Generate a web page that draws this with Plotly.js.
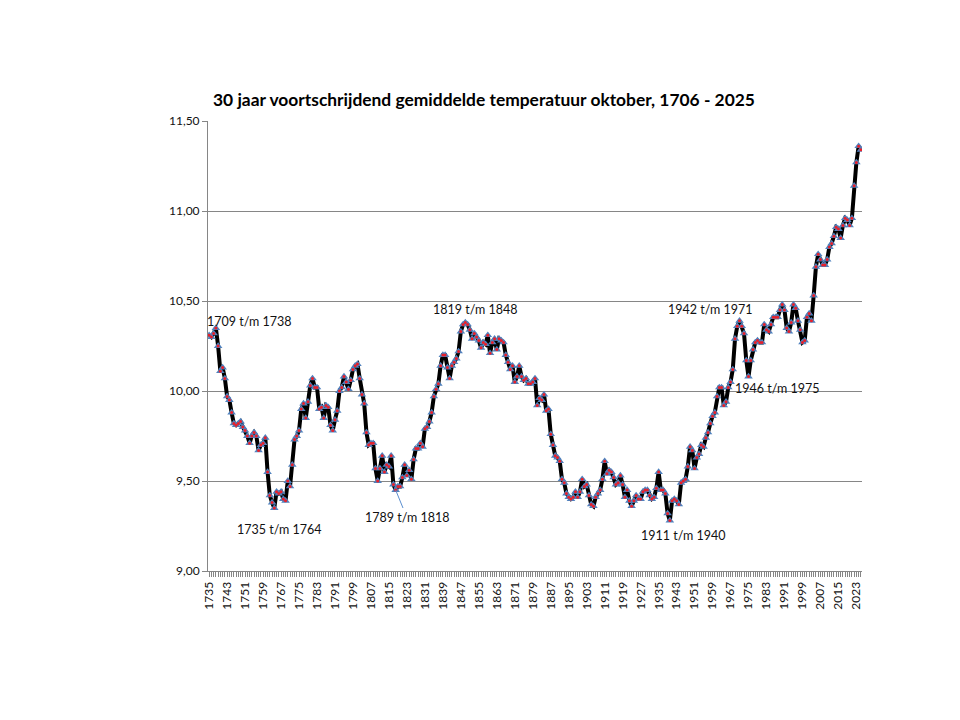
<!DOCTYPE html>
<html>
<head>
<meta charset="utf-8">
<script src="https://cdn.plot.ly/plotly-3.0.1.min.js"></script>
<style>
  html, body { margin: 0; padding: 0; background: #fff; }
  #chart { width: 960px; height: 720px; }
</style>
</head>
<body>
<div id="chart"></div>
<script>
// 30-year running mean of the October temperature; each value is labelled by the last year of its window
const firstYear = 1735;
const lastYear = 2025;

const tempMean = [
  10.31, 10.30, 10.32, 10.35, 10.25, 10.11, 10.13, 10.07, 9.97, 9.95,
  9.88, 9.82, 9.81, 9.82, 9.83, 9.80, 9.78, 9.75, 9.71, 9.75,
  9.77, 9.75, 9.67, 9.70, 9.71, 9.74, 9.55, 9.42, 9.38, 9.35,
  9.44, 9.43, 9.44, 9.40, 9.39, 9.50, 9.47, 9.59, 9.73, 9.75,
  9.78, 9.90, 9.93, 9.85, 9.94, 10.03, 10.07, 10.02, 10.02, 9.90,
  9.91, 9.85, 9.92, 9.91, 9.81, 9.78, 9.84, 9.89, 10.00, 10.02,
  10.08, 10.05, 10.01, 10.06, 10.12, 10.14, 10.15, 10.07, 9.98, 9.93,
  9.77, 9.70, 9.71, 9.71, 9.57, 9.50, 9.57, 9.64, 9.55, 9.59,
  9.58, 9.64, 9.48, 9.45, 9.47, 9.47, 9.52, 9.59, 9.53, 9.56,
  9.51, 9.62, 9.68, 9.68, 9.71, 9.69, 9.79, 9.80, 9.83, 9.88,
  9.97, 10.01, 10.04, 10.14, 10.20, 10.20, 10.13, 10.07, 10.14, 10.16,
  10.18, 10.22, 10.33, 10.37, 10.38, 10.37, 10.34, 10.29, 10.32, 10.30,
  10.28, 10.24, 10.27, 10.26, 10.31, 10.21, 10.27, 10.29, 10.23, 10.29,
  10.28, 10.27, 10.20, 10.16, 10.12, 10.14, 10.05, 10.08, 10.14, 10.08,
  10.06, 10.07, 10.04, 10.04, 10.05, 10.07, 9.92, 9.96, 9.95, 9.98,
  9.89, 9.90, 9.76, 9.70, 9.64, 9.63, 9.61, 9.51, 9.49, 9.43,
  9.41, 9.40, 9.41, 9.44, 9.41, 9.44, 9.51, 9.47, 9.48, 9.42,
  9.37, 9.36, 9.41, 9.43, 9.45, 9.51, 9.61, 9.54, 9.56, 9.55,
  9.52, 9.48, 9.49, 9.53, 9.48, 9.41, 9.45, 9.39, 9.36, 9.39,
  9.42, 9.40, 9.40, 9.44, 9.45, 9.45, 9.42, 9.40, 9.41, 9.46,
  9.55, 9.45, 9.45, 9.43, 9.32, 9.28, 9.39, 9.40, 9.39, 9.37,
  9.49, 9.50, 9.51, 9.58, 9.69, 9.67, 9.57, 9.63, 9.65, 9.70,
  9.69, 9.74, 9.77, 9.82, 9.86, 9.88, 9.97, 10.02, 10.02, 9.92,
  9.94, 10.02, 10.05, 10.12, 10.29, 10.36, 10.39, 10.36, 10.32, 10.17,
  10.08, 10.17, 10.23, 10.27, 10.28, 10.27, 10.27, 10.37, 10.34, 10.33,
  10.37, 10.41, 10.41, 10.41, 10.45, 10.48, 10.45, 10.35, 10.33, 10.38,
  10.48, 10.46, 10.39, 10.34, 10.27, 10.28, 10.41, 10.43, 10.39, 10.53,
  10.69, 10.76, 10.73, 10.70, 10.70, 10.73, 10.80, 10.82, 10.86, 10.91,
  10.90, 10.85, 10.92, 10.96, 10.95, 10.92, 10.96, 11.14, 11.27, 11.36,
  11.34
];

const years = [];
for (let y = firstYear; y <= lastYear; y++) years.push(y);

// every eighth year gets a label on the category axis
const tickYears = [];
for (let y = firstYear; y <= lastYear; y += 8) tickYears.push(y);
const tickText = tickYears.map(String);

// window labels: [first year, last year] of the 30-year window
const windowLabels = [
  [1709, 1738], [1735, 1764], [1789, 1818], [1819, 1848],
  [1942, 1971], [1946, 1975], [1911, 1940], [1996, 2025]
];

// plot-area geometry in pixels, used to place the text labels
const plotL = 208, plotR = 862, plotT = 121, plotB = 571;
const xMin = firstYear - 0.5, xMax = lastYear + 0.5;
const yMin = 9.0, yMax = 11.5;
const pxToX = px => xMin + (px - plotL) / (plotR - plotL) * (xMax - xMin);
const pxToY = py => yMax - (py - plotT) / (plotB - plotT) * (yMax - yMin);

// label centre positions (px) for each window label, in the same order
const labelPos = [
  [249, 321], [279, 529], [408, 516], [475, 309],
  [710, 309], [777, 388], [683, 535], [907, 158]
];

const labelFont = { family: 'Lato, "Open Sans", sans-serif', size: 12.5, color: '#111' };

const annotations = windowLabels.map((w, i) => {
  const txt = w[0] + ' t/m ' + w[1];
  const a = {
    text: txt,
    xref: 'x', yref: 'y',
    x: pxToX(labelPos[i][0]), y: pxToY(labelPos[i][1]),
    xanchor: 'center', yanchor: 'middle',
    showarrow: false,
    font: labelFont
  };
  if (w[1] === 1818) {
    // leader line from the label to the minimum it describes
    const idx = w[1] - firstYear;
    a.x = w[1];
    a.y = tempMean[idx];
    a.showarrow = true;
    a.arrowhead = 0;
    a.arrowwidth = 1;
    a.arrowcolor = '#5b8fd0';
    a.axref = 'pixel'; a.ayref = 'pixel';
    a.ax = 11; a.ay = 27;
    a.standoff = 0;
  }
  return a;
});

const traces = [
  {
    x: years, y: tempMean,
    type: 'scatter', mode: 'lines',
    line: { color: '#000000', width: 4 },
    hoverinfo: 'skip'
  },
  {
    x: years, y: tempMean,
    type: 'scatter', mode: 'markers',
    marker: { symbol: 'triangle-up', size: 7.5, color: '#4f81bd', line: { width: 0 } }
  },
  {
    x: years, y: tempMean,
    type: 'scatter', mode: 'markers',
    marker: { symbol: 'circle', size: 3, color: '#e8202a', line: { width: 0 } }
  }
];

const gridGrey = '#868686';
const tickFont = { family: 'Lato, "Open Sans", sans-serif', size: 12, color: '#111' };

const layout = {
  width: 960, height: 720,
  paper_bgcolor: '#ffffff', plot_bgcolor: '#ffffff',
  separators: ',.',
  showlegend: false,
  margin: { l: plotL, r: 960 - plotR, t: plotT, b: 720 - plotB, pad: 0 },
  title: {
    text: '<b>30 jaar voortschrijdend gemiddelde temperatuur oktober, 1706 - 2025</b>',
    font: { family: 'Lato, "Open Sans", sans-serif', size: 17.4, color: '#000' },
    xref: 'container', yref: 'container',
    x: 484 / 960, y: 1 - 100 / 720,
    xanchor: 'center', yanchor: 'middle'
  },
  xaxis: {
    range: [xMin, xMax],
    tickmode: 'array', tickvals: tickYears, ticktext: tickText,
    tickangle: -90,
    tickfont: tickFont,
    ticks: 'outside', ticklen: 5, tickwidth: 1, tickcolor: gridGrey,
    minor: { dtick: 1, tick0: firstYear, ticks: 'outside', ticklen: 5, tickwidth: 1, tickcolor: gridGrey, showgrid: false },
    showgrid: false, zeroline: false,
    showline: true, linecolor: gridGrey, linewidth: 1
  },
  yaxis: {
    range: [yMin, yMax],
    dtick: 0.5, tick0: 9,
    tickformat: '.2f',
    tickfont: tickFont,
    ticks: 'outside', ticklen: 5, tickwidth: 1, tickcolor: gridGrey,
    showgrid: true, gridcolor: gridGrey, gridwidth: 1,
    zeroline: false,
    showline: true, linecolor: gridGrey, linewidth: 1
  },
  annotations: annotations
};

Plotly.newPlot('chart', traces, layout, { displayModeBar: false, staticPlot: true });
</script>
</body>
</html>
